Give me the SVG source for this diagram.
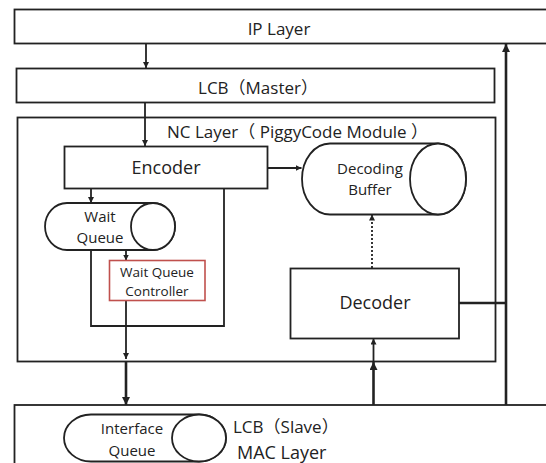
<svg xmlns="http://www.w3.org/2000/svg" width="546" height="463" viewBox="0 0 546 463">
<style>
.box{fill:#fff;stroke:#222;stroke-width:1.8}
.ln{fill:none;stroke:#222;stroke-width:1.8}
.thk{fill:none;stroke:#222;stroke-width:2.6}
.t{font-family:"Open Sans","Noto Sans CJK JP",sans-serif;fill:#222;text-anchor:middle}
</style>
<defs>
<marker id="ah" viewBox="0 0 10 10" refX="10" refY="5" markerWidth="6" markerHeight="6" orient="auto" markerUnits="userSpaceOnUse">
<path d="M0,0 L10,5 L0,10 Z" fill="#222"/>
</marker>
<marker id="ah2" viewBox="0 0 10 10" refX="10" refY="5" markerWidth="8" markerHeight="8" orient="auto" markerUnits="userSpaceOnUse">
<path d="M0,0 L10,5 L0,10 Z" fill="#222"/>
</marker>
</defs>
<rect width="546" height="463" fill="#fff"/>
<g id="ip-layer">
<rect class="box" x="14.5" y="9.5" width="540" height="34"/>
<text class="t" x="279" y="35" font-size="17">IP Layer</text>
</g>
<g id="lcb-master">
<rect class="box" x="16.5" y="68.5" width="478" height="34"/>
<text class="t" x="258" y="94" font-size="17">LCB（Master）</text>
</g>
<g id="nc-layer">
<rect class="box" x="17.5" y="117.5" width="478" height="244"/>
<text class="t" x="167" y="138" font-size="17" style="text-anchor:start">NC Layer（ PiggyCode Module ）</text>
</g>
<g id="lcb-slave">
<rect class="box" x="14.5" y="405" width="540" height="70"/>
<text class="t" x="233" y="433" font-size="17" style="text-anchor:start">LCB（Slave）</text>
<text class="t" x="237" y="459" font-size="18" style="text-anchor:start">MAC Layer</text>
</g>
<g id="connectors">
<line class="ln" x1="146" y1="44" x2="146" y2="68" marker-end="url(#ah)"/>
<line class="ln" x1="145" y1="103" x2="145" y2="146" marker-end="url(#ah)"/>
<line class="ln" x1="91" y1="188" x2="91" y2="203" marker-end="url(#ah)"/>
<line class="ln" x1="126" y1="250" x2="126" y2="260.5" marker-end="url(#ah)"/>
<polyline class="ln" points="91,250 91,326 224,326 224,188"/>
<line class="ln" x1="267" y1="168" x2="301.5" y2="168" marker-end="url(#ah)"/>
<line class="ln" x1="372" y1="268" x2="372" y2="214.5" stroke-dasharray="2,2" marker-end="url(#ah)"/>
<line class="ln" x1="126" y1="300.5" x2="126" y2="359" marker-end="url(#ah)"/>
<line class="thk" x1="126" y1="362" x2="126" y2="405" marker-end="url(#ah2)"/>
<line class="ln" x1="373.5" y1="362" x2="373.5" y2="338.5" marker-end="url(#ah)"/>
<line class="thk" x1="373.5" y1="405" x2="373.5" y2="362" marker-end="url(#ah2)"/>
<line class="thk" x1="459" y1="303" x2="506" y2="303"/>
<line class="thk" x1="506" y1="405" x2="506" y2="44" marker-end="url(#ah2)"/>
</g>
<g id="encoder">
<rect class="box" x="64.5" y="146.5" width="203" height="42"/>
<text class="t" x="166" y="174" font-size="18">Encoder</text>
</g>
<g id="wait-queue">
<path class="box" d="M67,203 L153,203 A22,23.5 0 0 1 153,250 L67,250 A22,23.5 0 0 1 67,203 Z"/>
<ellipse class="box" cx="153" cy="226.5" rx="22" ry="23.5"/>
<text class="t" x="100" y="222" font-size="15">Wait</text>
<text class="t" x="100" y="243" font-size="15">Queue</text>
</g>
<g id="wait-queue-controller">
<rect x="109.5" y="260.5" width="95.5" height="40" fill="#fff" stroke="#c0504d" stroke-width="1.6"/>
<text class="t" x="157" y="277" font-size="13.5">Wait Queue</text>
<text class="t" x="157" y="296" font-size="13.5">Controller</text>
</g>
<g id="decoding-buffer">
<path class="box" d="M330,143.5 L438,143.5 A28,35.5 0 0 1 438,214.5 L330,214.5 A28,35.5 0 0 1 330,143.5 Z"/>
<ellipse class="box" cx="438" cy="179" rx="28" ry="35.5"/>
<text class="t" x="370" y="174" font-size="15">Decoding</text>
<text class="t" x="370" y="195" font-size="15">Buffer</text>
</g>
<g id="decoder">
<rect class="box" x="290.5" y="268.5" width="168.5" height="70"/>
<text class="t" x="375" y="309" font-size="18">Decoder</text>
</g>
<g id="interface-queue">
<path class="box" d="M91,414.5 L199,414.5 A27,23.5 0 0 1 199,461.5 L91,461.5 A27,23.5 0 0 1 91,414.5 Z"/>
<ellipse class="box" cx="199" cy="438" rx="27" ry="23.5"/>
<text class="t" x="132" y="434" font-size="15">Interface</text>
<text class="t" x="132" y="456" font-size="15">Queue</text>
</g>
</svg>
